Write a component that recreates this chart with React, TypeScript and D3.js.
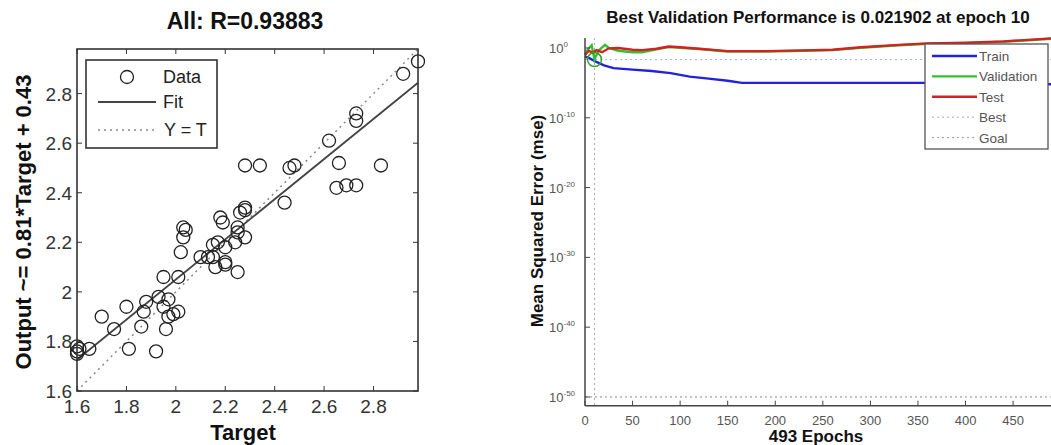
import React from 'react';
import * as d3 from 'd3';

// ---- regression plot data (Target vs Output) ----
const regTitle = 'All: R=0.93883';
const fitSlope = 0.81;
const fitIntercept = 0.43;
const targets = [
  1.6, 1.6, 1.61, 1.6, 1.65, 1.7, 1.75, 1.8, 1.81, 1.86, 1.87, 1.88, 1.92, 1.93, 1.95, 1.95,
  1.96, 1.97, 1.97, 1.99, 2.01, 2.01, 2.02, 2.03, 2.03, 2.04, 2.1, 2.13, 2.15, 2.15, 2.16,
  2.17, 2.18, 2.19, 2.2, 2.2, 2.2, 2.24, 2.25, 2.25, 2.25, 2.26, 2.28, 2.28, 2.28, 2.28,
  2.34, 2.44, 2.46, 2.48, 2.62, 2.65, 2.66, 2.69, 2.73, 2.73, 2.73, 2.83, 2.92, 2.98,
];
const outputs = [
  1.78, 1.76, 1.77, 1.75, 1.77, 1.9, 1.85, 1.94, 1.77, 1.86, 1.92, 1.96, 1.76, 1.98, 1.94, 2.06,
  1.85, 1.97, 1.9, 1.91, 1.92, 2.06, 2.16, 2.26, 2.22, 2.25, 2.14, 2.14, 2.14, 2.19, 2.1,
  2.2, 2.3, 2.28, 2.11, 2.18, 2.12, 2.2, 2.24, 2.08, 2.26, 2.32, 2.22, 2.34, 2.33, 2.51,
  2.51, 2.36, 2.5, 2.51, 2.61, 2.42, 2.52, 2.43, 2.43, 2.72, 2.69, 2.51, 2.88, 2.93,
];
const regTicks = [1.6, 1.8, 2.0, 2.2, 2.4, 2.6, 2.8];

// ---- performance plot data ----
const perfTitle = 'Best Validation Performance is 0.021902 at epoch 10';
const totalEpochs = 493;
const bestEpoch = 10;
const bestPerf = 0.021902;
const goalMse = 1e-50;
const trainEpochs = [0, 5, 12, 20, 30, 50, 70, 90, 110, 130, 150, 165, 300, 450, 493];
const trainMse = [0.063, 0.032, 0.01, 0.0032, 0.0013, 7.9e-4, 5.0e-4, 2.5e-4, 7.9e-5, 4.0e-5, 2.0e-5, 1.0e-5, 1.0e-5, 1.0e-5, 6e-6];
const valEpochs = [0, 3, 7, 10, 14, 18, 21, 25, 35, 50, 60, 75, 88, 100, 120, 150, 190, 230, 260, 290, 330, 360, 400, 440, 470, 493];
const valMse = [0.126, 0.63, 2.5, 0.021902, 0.4, 1.26, 2.8, 1.0, 0.4, 0.25, 0.25, 0.63, 1.4, 1.1, 0.7, 0.32, 0.32, 0.4, 0.5, 1.1, 2.5, 4.0, 5.0, 8.0, 14, 22];
const testEpochs = [0, 4, 8, 12, 18, 25, 35, 50, 60, 75, 88, 100, 120, 150, 190, 230, 260, 290, 330, 360, 400, 440, 470, 493];
const testMse = [0.1, 0.4, 0.2, 0.5, 0.25, 0.89, 1.0, 0.56, 0.5, 0.79, 1.6, 1.26, 0.79, 0.35, 0.35, 0.45, 0.56, 1.26, 2.8, 4.5, 5.6, 8.9, 15.8, 25];
const epochTicks = [0, 50, 100, 150, 200, 250, 300, 350, 400, 450];
const mseTicks = [1e0, 1e-10, 1e-20, 1e-30, 1e-40, 1e-50];
const mseTickExp = ['0', '-10', '-20', '-30', '-40', '-50'];

const FONT = 'Liberation Sans, Arial, sans-serif';

function Regression() {
  const x = d3.scaleLinear().domain([1.6, 2.98]).range([77, 418]);
  const y = d3.scaleLinear().domain([1.6, 2.98]).range([391, 49]);
  const fmt = (v: number) => String(+v.toFixed(1));
  const lo = 1.6, hi = 2.98;
  const line = d3.line<[number, number]>().x(d => x(d[0])).y(d => y(d[1]));
  const fitPts: [number, number][] = [[lo, fitSlope * lo + fitIntercept], [hi, fitSlope * hi + fitIntercept]];
  const idPts: [number, number][] = [[lo, lo], [hi, hi]];
  const [x0, x1] = x.range();
  const [y0, y1] = y.range();
  return (
    <g fontFamily={FONT}>
      <text x={245} y={29} textAnchor="middle" fontSize={23} fontWeight="bold" fill="#111">{regTitle}</text>
      <path d={line(idPts) || ''} stroke="#888" strokeWidth={1.5} strokeDasharray="2,4" fill="none" />
      <path d={line(fitPts) || ''} stroke="#444" strokeWidth={1.8} fill="none" />
      {targets.map((t, i) => (
        <circle key={i} cx={x(t)} cy={y(outputs[i])} r={6.5} fill="none" stroke="#222" strokeWidth={1.3} />
      ))}
      <rect x={x0} y={y1} width={x1 - x0} height={y0 - y1} fill="none" stroke="#333" strokeWidth={1.6} />
      {regTicks.map(t => (
        <g key={'x' + t}>
          <line x1={x(t)} x2={x(t)} y1={y0} y2={y0 - 5} stroke="#333" />
          <line x1={x(t)} x2={x(t)} y1={y1} y2={y1 + 5} stroke="#333" />
          <text x={x(t)} y={413} textAnchor="middle" fontSize={19} fill="#333">{fmt(t)}</text>
        </g>
      ))}
      {regTicks.map(t => (
        <g key={'y' + t}>
          <line x1={x0} x2={x0 + 5} y1={y(t)} y2={y(t)} stroke="#333" />
          <line x1={x1} x2={x1 - 5} y1={y(t)} y2={y(t)} stroke="#333" />
          <text x={72} y={y(t) + 7} textAnchor="end" fontSize={19} fill="#333">{fmt(t)}</text>
        </g>
      ))}
      <text x={243} y={440} textAnchor="middle" fontSize={22} fontWeight="bold" fill="#111">Target</text>
      <text transform="translate(31,222) rotate(-90)" textAnchor="middle" fontSize={22} fontWeight="bold" fill="#111">
        Output ~= 0.81*Target + 0.43
      </text>
      {/* legend */}
      <rect x={86} y={60} width={131} height={88} fill="#fff" stroke="#333" strokeWidth={1.6} />
      <circle cx={127} cy={77} r={6.5} fill="none" stroke="#222" strokeWidth={1.3} />
      <text x={163} y={83} fontSize={18} fill="#222">Data</text>
      <line x1={98} x2={156} y1={102} y2={102} stroke="#444" strokeWidth={1.8} />
      <text x={163} y={108} fontSize={18} fill="#222">Fit</text>
      <line x1={98} x2={157} y1={130} y2={130} stroke="#888" strokeWidth={1.5} strokeDasharray="2,4" />
      <text x={164} y={136} fontSize={18} fill="#222">Y = T</text>
    </g>
  );
}

function Performance() {
  const x = d3.scaleLinear().domain([0, totalEpochs]).range([585, 1054]);
  const y = d3.scaleLog().domain([Math.pow(10, -51.25), Math.pow(10, 1.43)]).range([405.7, 38]);
  const mk = (ep: number[], v: number[]) =>
    d3.line<number>().x((_, i) => x(ep[i])).y((_, i) => y(v[i]))(ep) || '';
  const [yb, yt] = y.range();
  return (
    <g fontFamily={FONT}>
      <text x={818} y={23} textAnchor="middle" fontSize={17} fontWeight="bold" fill="#111">{perfTitle}</text>
      {/* best / goal reference lines */}
      <line x1={x(0)} x2={1051} y1={y(bestPerf)} y2={y(bestPerf)} stroke="#9bc" strokeWidth={1} strokeDasharray="2,3" />
      <line x1={x(bestEpoch)} x2={x(bestEpoch)} y1={yt} y2={yb} stroke="#aaa" strokeWidth={1} strokeDasharray="2,3" />
      <line x1={x(0)} x2={1051} y1={y(goalMse)} y2={y(goalMse)} stroke="#888" strokeWidth={1} strokeDasharray="2,3" />
      <path d={mk(trainEpochs, trainMse)} stroke="#2222dd" strokeWidth={2.4} fill="none" />
      <path d={mk(valEpochs, valMse)} stroke="#33c033" strokeWidth={2.4} fill="none" />
      <path d={mk(testEpochs, testMse)} stroke="#d42222" strokeWidth={2.4} fill="none" />
      <circle cx={x(bestEpoch)} cy={y(bestPerf)} r={7} fill="none" stroke="#33a033" strokeWidth={1.5} />
      {/* axes */}
      <line x1={585} x2={585} y1={yt} y2={yb} stroke="#444" strokeWidth={1.5} />
      <line x1={585} x2={1051} y1={yb} y2={yb} stroke="#444" strokeWidth={1.5} />
      {epochTicks.map(t => (
        <g key={'e' + t}>
          <line x1={x(t)} x2={x(t)} y1={yb} y2={yb - 5} stroke="#444" />
          <text x={x(t)} y={425} textAnchor="middle" fontSize={13} fill="#555">{t}</text>
        </g>
      ))}
      {mseTicks.map((t, i) => (
        <g key={'m' + i}>
          <line x1={585} x2={590} y1={y(t)} y2={y(t)} stroke="#444" />
          <text x={549} y={y(t) + 5} fontSize={13} fill="#555">
            10<tspan dy={-6} fontSize={8}>{mseTickExp[i]}</tspan>
          </text>
        </g>
      ))}
      <text x={816} y={442} textAnchor="middle" fontSize={17} fontWeight="bold" fill="#111">{totalEpochs} Epochs</text>
      <text transform="translate(543,221) rotate(-90)" textAnchor="middle" fontSize={17} fontWeight="bold" fill="#111">
        Mean Squared Error  (mse)
      </text>
      {/* legend */}
      <rect x={925} y={44} width={123} height={105} fill="#fff" stroke="#555" strokeWidth={1.3} />
      {[
        { label: 'Train', color: '#2222dd', dash: '', w: 2.4 },
        { label: 'Validation', color: '#33c033', dash: '', w: 2.4 },
        { label: 'Test', color: '#d42222', dash: '', w: 2.4 },
        { label: 'Best', color: '#aaa', dash: '2,3', w: 1 },
        { label: 'Goal', color: '#999', dash: '2,3', w: 1 },
      ].map((it, i) => (
        <g key={it.label}>
          <line x1={932} x2={977} y1={56 + i * 20.4} y2={56 + i * 20.4} stroke={it.color} strokeWidth={it.w} strokeDasharray={it.dash} />
          <text x={979} y={61 + i * 20.4} fontSize={13.5} fill="#555">{it.label}</text>
        </g>
      ))}
    </g>
  );
}

export default function App() {
  return (
    <svg width={1051} height={445} style={{ position: 'absolute', left: 0, top: 0, background: '#fff' }}>
      <Regression />
      <Performance />
    </svg>
  );
}
